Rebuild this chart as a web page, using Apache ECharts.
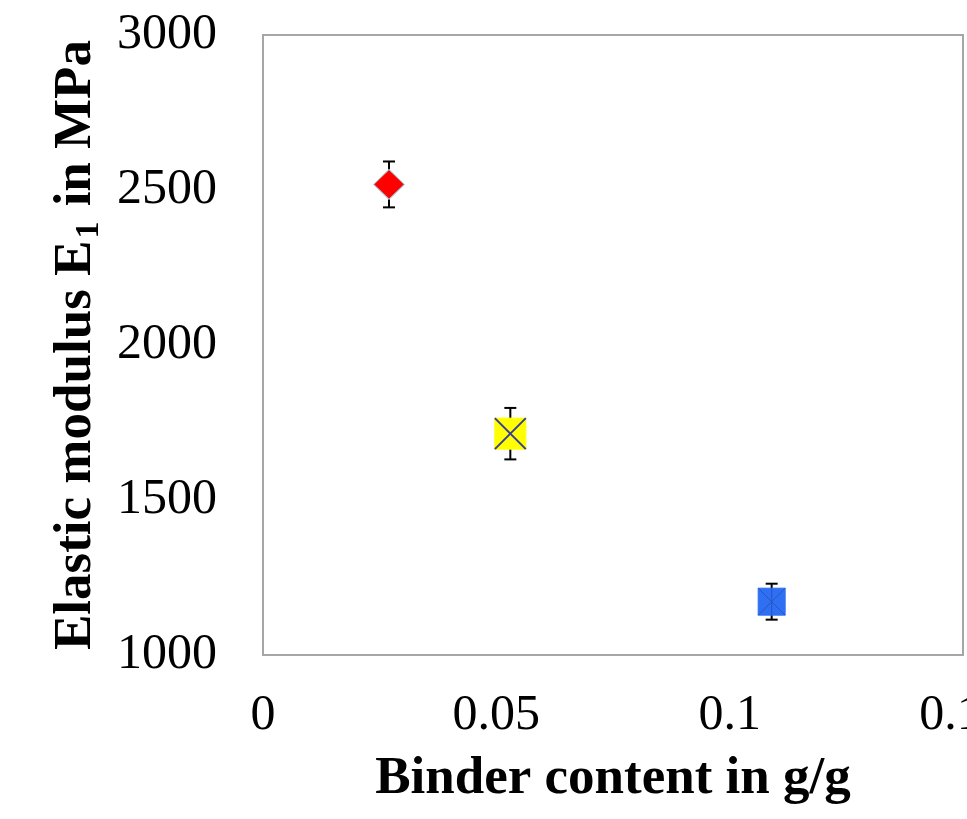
<!DOCTYPE html>
<html>
<head>
<meta charset="utf-8">
<script src="https://cdn.jsdelivr.net/npm/echarts@6/dist/echarts.min.js"></script>
<style>
html,body{margin:0;padding:0;background:#fff;}
#c{width:967px;height:819px;}
</style>
</head>
<body>
<div id="c"></div>
<script>
// Data
const binderContent = [0.027, 0.053, 0.109];
const elasticModulus = [2518, 1714, 1172];
const modulusError = [74, 83, 58];
const xTicks = [0, 0.05, 0.1, 0.15];
const yTicks = [1000, 1500, 2000, 2500, 3000];

// Marker styles (one per point)
const markerSymbols = ['diamond', 'rect', 'rect'];
const markerSizes = [[31, 30], 31, 27];
const markerFill = ['#ff0000', '#ffff00', '#2f6ff2'];
const markerBorder = ['#a8d8e6', '#ffff00', '#2f6ff2'];
const crossPaths = [null, 'path://M0 0L10 10M10 0L0 10', 'path://M0 0L10 10M10 0L0 10M5 0L5 10'];
const crossColors = [null, '#3b3b9c', '#2656c4'];
const crossWidths = [0, 2, 1];

const FONT = 'Liberation Serif';

const chart = echarts.init(document.getElementById('c'), null, {renderer: 'canvas'});

const errData = binderContent.map((x, i) => [x, elasticModulus[i], modulusError[i]]);
const pointData = binderContent.map((x, i) => ({
  value: [x, elasticModulus[i]],
  symbol: markerSymbols[i],
  symbolSize: markerSizes[i],
  itemStyle: {color: markerFill[i], borderColor: markerBorder[i], borderWidth: 1, opacity: 1}
}));
const crossData = [];
binderContent.forEach((x, i) => {
  if (crossPaths[i]) {
    crossData.push({
      value: [x, elasticModulus[i]],
      symbol: crossPaths[i],
      symbolSize: markerSizes[i],
      itemStyle: {color: 'rgba(0,0,0,0)', borderColor: crossColors[i], borderWidth: crossWidths[i], opacity: 1}
    });
  }
});

chart.setOption({
  animation: false,
  backgroundColor: '#ffffff',
  grid: {
    left: 263, top: 35, right: 4, bottom: 164,
    containLabel: false,
    outerBoundsMode: 'none',
    show: true, borderColor: '#a6a6a6', borderWidth: 2, backgroundColor: 'transparent'
  },
  xAxis: {
    type: 'value',
    min: xTicks[0], max: xTicks[xTicks.length - 1], interval: xTicks[1] - xTicks[0],
    axisLine: {show: false}, axisTick: {show: false}, splitLine: {show: false},
    axisLabel: {
      margin: 36, color: '#000', fontFamily: FONT, fontSize: 50,
      formatter: v => String(Math.round(v * 100) / 100),
      showMaxLabel: true, showMinLabel: true, hideOverlap: false
    },
    name: 'Binder content in g/g',
    nameLocation: 'middle', nameGap: 98,
    nameTextStyle: {color: '#000', fontFamily: FONT, fontSize: 53, fontWeight: 'bold'}
  },
  yAxis: {
    type: 'value',
    min: yTicks[0], max: yTicks[yTicks.length - 1], interval: yTicks[1] - yTicks[0],
    axisLine: {show: false}, axisTick: {show: false}, splitLine: {show: false},
    axisLabel: {margin: 46, color: '#000', fontFamily: FONT, fontSize: 50, formatter: v => String(v)},
    name: '{a|Elastic modulus E}{b|1}{a| in MPa}',
    nameLocation: 'middle', nameGap: 150, nameRotate: 90,
    nameTextStyle: {
      color: '#000', fontFamily: FONT, fontSize: 53, fontWeight: 'bold',
      rich: {
        a: {color: '#000', fontFamily: FONT, fontSize: 53, fontWeight: 'bold', lineHeight: 60},
        b: {color: '#000', fontFamily: FONT, fontSize: 34, fontWeight: 'bold', lineHeight: 34, verticalAlign: 'bottom', padding: [0, 2, 0, 2]}
      }
    }
  },
  series: [
    {
      type: 'custom',
      z: 1,
      renderItem: function (params, api) {
        const x = api.value(0), y = api.value(1), e = api.value(2);
        const top = api.coord([x, y + e]);
        const bot = api.coord([x, y - e]);
        const cw = 6;
        const st = {stroke: '#000', lineWidth: 2};
        return {
          type: 'group',
          children: [
            {type: 'line', shape: {x1: top[0], y1: top[1], x2: bot[0], y2: bot[1]}, style: st},
            {type: 'line', shape: {x1: top[0] - cw, y1: top[1], x2: top[0] + cw, y2: top[1]}, style: st},
            {type: 'line', shape: {x1: bot[0] - cw, y1: bot[1], x2: bot[0] + cw, y2: bot[1]}, style: st}
          ]
        };
      },
      data: errData
    },
    {type: 'scatter', z: 3, data: pointData},
    {type: 'scatter', z: 4, data: crossData}
  ]
});
</script>
</body>
</html>
